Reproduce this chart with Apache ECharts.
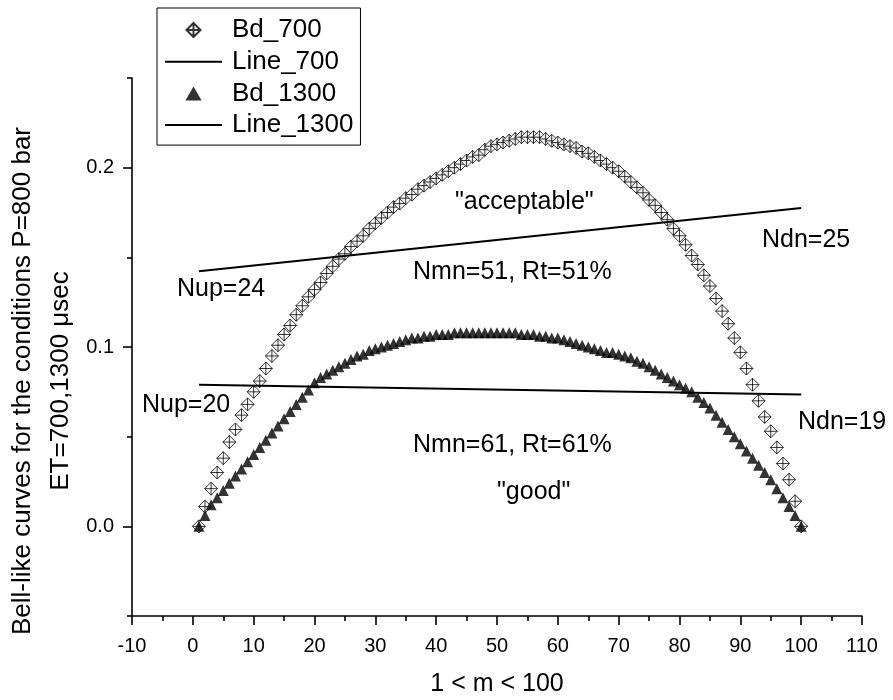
<!DOCTYPE html>
<html>
<head>
<meta charset="utf-8">
<script src="https://cdn.jsdelivr.net/npm/echarts@6/dist/echarts.min.js"></script>
<style>html,body{margin:0;padding:0;background:#fff}#c{width:893px;height:700px}</style>
</head>
<body>
<div id="c"></div>
<script>
// ---- data ----
const mValues = [1,2,3,4,5,6,7,8,9,10,11,12,13,14,15,16,17,18,19,20,21,22,23,24,25,26,27,28,29,30,31,32,33,34,35,36,37,38,39,40,41,42,43,44,45,46,47,48,49,50,51,52,53,54,55,56,57,58,59,60,61,62,63,64,65,66,67,68,69,70,71,72,73,74,75,76,77,78,79,80,81,82,83,84,85,86,87,88,89,90,91,92,93,94,95,96,97,98,99,100];
const bd700 = [0.000,0.011,0.021,0.030,0.038,0.047,0.054,0.062,0.068,0.075,
  0.081,0.088,0.095,0.101,0.107,0.112,0.118,0.123,0.128,0.132,
  0.136,0.141,0.145,0.149,0.152,0.156,0.159,0.162,0.166,0.169,
  0.172,0.175,0.178,0.180,0.183,0.185,0.188,0.190,0.192,0.194,
  0.196,0.198,0.200,0.202,0.204,0.206,0.207,0.210,0.212,0.213,
  0.214,0.215,0.216,0.217,0.217,0.217,0.217,0.216,0.215,0.214,
  0.213,0.212,0.211,0.209,0.208,0.206,0.204,0.202,0.200,0.198,
  0.195,0.192,0.189,0.186,0.182,0.179,0.175,0.171,0.166,0.162,
  0.157,0.151,0.146,0.140,0.134,0.127,0.120,0.113,0.105,0.097,
  0.088,0.079,0.070,0.061,0.053,0.044,0.035,0.026,0.014,0.000];
const bd1300 = [0.000,0.006,0.012,0.016,0.020,0.024,0.028,0.032,0.036,0.040,
  0.044,0.048,0.052,0.056,0.060,0.064,0.068,0.072,0.076,0.080,
  0.083,0.085,0.087,0.089,0.091,0.093,0.095,0.096,0.098,0.099,
  0.100,0.101,0.102,0.103,0.104,0.105,0.105,0.106,0.106,0.107,
  0.107,0.107,0.108,0.108,0.108,0.108,0.108,0.108,0.108,0.108,
  0.108,0.108,0.108,0.107,0.107,0.107,0.106,0.106,0.105,0.105,
  0.104,0.103,0.102,0.101,0.100,0.099,0.098,0.097,0.097,0.096,
  0.095,0.094,0.092,0.091,0.089,0.087,0.085,0.083,0.081,0.079,
  0.077,0.075,0.072,0.069,0.066,0.062,0.058,0.054,0.050,0.046,
  0.042,0.038,0.034,0.030,0.026,0.021,0.016,0.011,0.006,0.000];
const line700X = [1, 100];
const line700Y = [0.1423, 0.1775];
const line1300X = [1, 100];
const line1300Y = [0.079, 0.0735];
const yMajorTicks = [0, 0.1, 0.2];
const yMinorTicks = [-0.05, 0.05, 0.15, 0.25];
const seriesNames = ['Bd_700', 'Line_700', 'Bd_1300', 'Line_1300'];
const xTitle = '1 < m < 100';
const yTitle1 = 'Bell-like curves for the conditions P=800 bar';
const yTitle2 = 'ET=700,1300 \u03bcsec';
const annotations = [
  {text: '"acceptable"', x: 455, y: 202},
  {text: 'Nmn=51, Rt=51%', x: 413, y: 272},
  {text: 'Ndn=25', x: 762, y: 240},
  {text: 'Nup=24', x: 177, y: 289},
  {text: 'Nup=20', x: 142, y: 405},
  {text: 'Nmn=61, Rt=61%', x: 413, y: 445},
  {text: '"good"', x: 497, y: 492},
  {text: 'Ndn=19', x: 798, y: 422}
];

// ---- build ----
const FONT = 'Arial, "Liberation Sans", sans-serif';
const pts = (xs, ys) => xs.map((x, i) => [x, ys[i]]);
const diamondCross = 'path://M0,-1L1,0L0,1L-1,0Z M0,-1L0,1 M-1,0L1,0';
const triIcon = 'path://M0,-1L1.1,0.9L-1.1,0.9Z';
const lineIcon = 'path://M0,0L57,0L57,2L0,2Z';

const chart = echarts.init(document.getElementById('c'), null, {renderer: 'canvas'});
const axisLine = {show: true, onZero: false, lineStyle: {color: '#000', width: 1.6}};
const graphics = annotations.map(a => ({
  type: 'text', x: a.x, y: a.y, z: 10,
  style: {text: a.text, font: '25px ' + FONT, fill: '#000', align: 'left', verticalAlign: 'middle'}
}));
graphics.push(
  {type: 'text', x: 23, y: 381, rotation: Math.PI / 2, z: 10,
   style: {text: yTitle1, font: '26px ' + FONT, fill: '#000', align: 'center', verticalAlign: 'middle'}},
  {type: 'text', x: 61, y: 381, rotation: Math.PI / 2, z: 10,
   style: {text: yTitle2, font: '26px ' + FONT, fill: '#000', align: 'center', verticalAlign: 'middle'}}
);
chart.setOption({
  animation: false,
  backgroundColor: '#fff',
  grid: {left: 132, right: 31, top: 78, bottom: 84, outerBoundsMode: 'none', containLabel: false},
  legend: {
    orient: 'vertical', left: 157, top: 8,
    padding: [9, 7, 7, 8],
    borderColor: '#000', borderWidth: 1,
    itemWidth: 57, itemHeight: 14, itemGap: 5.7,
    symbolKeepAspect: true,
    textStyle: {fontSize: 26, fontFamily: FONT, color: '#000', lineHeight: 26, padding: [0, 0, 0, 5]},
    data: [
      {name: seriesNames[0], icon: diamondCross},
      {name: seriesNames[1], icon: lineIcon},
      {name: seriesNames[2], icon: triIcon, itemStyle: {color: '#000'}},
      {name: seriesNames[3], icon: lineIcon}
    ]
  },
  xAxis: {
    type: 'value', min: -10, max: 110, interval: 10,
    axisLine: axisLine,
    axisTick: {show: true, inside: false, length: 9, lineStyle: {color: '#000', width: 1.6}},
    minorTick: {show: true, splitNumber: 2, length: 5, lineStyle: {color: '#000', width: 1.6}},
    splitLine: {show: false},
    axisLabel: {fontSize: 20, fontFamily: FONT, color: '#000', margin: 20},
    name: xTitle, nameLocation: 'middle', nameGap: 56,
    nameTextStyle: {fontSize: 25, fontFamily: FONT, color: '#000'}
  },
  yAxis: [{
    type: 'value', min: -0.05, max: 0.25,
    axisLine: axisLine,
    axisTick: {show: true, length: 9, customValues: yMajorTicks, lineStyle: {color: '#000', width: 1.6}},
    axisLabel: {fontSize: 20, fontFamily: FONT, color: '#000', margin: 18, customValues: yMajorTicks,
      formatter: v => v.toFixed(1)},
    splitLine: {show: false}
  }, {
    type: 'value', min: -0.05, max: 0.25, position: 'left',
    axisLine: {show: false, onZero: false},
    axisTick: {show: true, length: 5, customValues: yMinorTicks, lineStyle: {color: '#000', width: 1.6}},
    axisLabel: {show: false},
    splitLine: {show: false}
  }],
  graphic: graphics,
  series: [
    {name: seriesNames[0], type: 'scatter', data: pts(mValues, bd700),
      symbol: diamondCross, symbolSize: 13,
      itemStyle: {color: '#fff', borderColor: '#000', borderWidth: 1}, z: 3},
    {name: seriesNames[1], type: 'line', data: pts(line700X, line700Y),
      symbol: 'none', itemStyle: {color: '#000'}, lineStyle: {color: '#000', width: 2}, z: 4},
    {name: seriesNames[2], type: 'scatter', data: pts(mValues, bd1300),
      symbol: 'triangle', symbolSize: 11,
      itemStyle: {color: '#000'}, z: 3},
    {name: seriesNames[3], type: 'line', data: pts(line1300X, line1300Y),
      symbol: 'none', itemStyle: {color: '#000'}, lineStyle: {color: '#000', width: 2}, z: 4}
  ]
});
</script>
</body>
</html>
